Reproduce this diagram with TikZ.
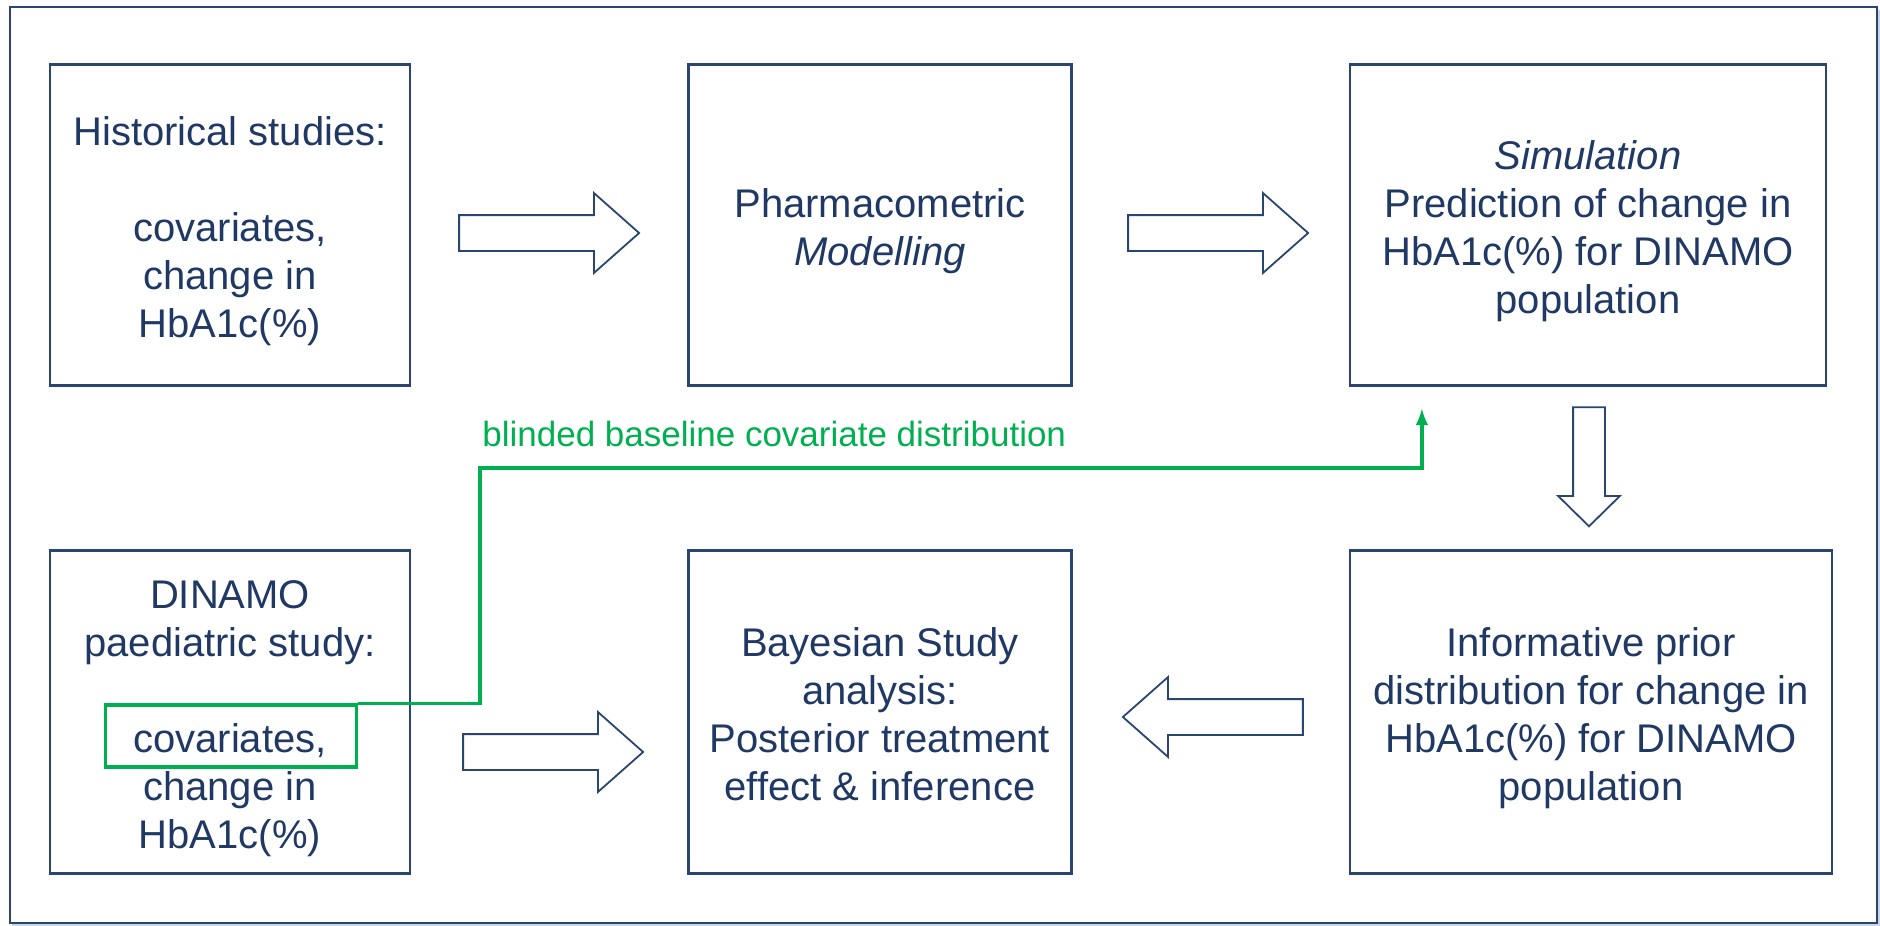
\documentclass[tikz,border=0pt]{standalone}
\usepackage{fontspec}
\setmainfont{Liberation Sans}
\usetikzlibrary{shapes.arrows}
\definecolor{navy}{HTML}{1F3864}
\definecolor{boxblue}{HTML}{2A4670}
\definecolor{grn}{HTML}{00B050}
\definecolor{halo}{HTML}{C9D6E8}
% struts so that every box text sits at the same height
\newcommand{\topstrut}{\rule{0pt}{21pt}}
\newcommand{\botstrut}{\rule[-5pt]{0pt}{5pt}}
\begin{document}
\begin{tikzpicture}[x=0.5pt,y=-0.5pt,
 box/.style={draw=boxblue,line width=1.1pt,text=navy,align=center,inner sep=0pt,font=\fontsize{20}{24}\selectfont},
 widearrow/.style={single arrow,draw=boxblue,line width=0.9pt,fill=white,inner sep=8.5pt,minimum width=39pt,minimum height=90pt,single arrow head extend=11pt,single arrow tip angle=83},
 narrowarrow/.style={single arrow,draw=boxblue,line width=0.9pt,fill=white,inner sep=7.5pt,minimum width=30pt,minimum height=59.5pt,single arrow head extend=7.5pt,single arrow tip angle=91},
 pick/.style={draw=grn,line width=1.6pt,minimum width=125.5pt,minimum height=31pt,inner sep=0pt}]

\useasboundingbox (0,0) rectangle (1880,926);

% outer frame
\draw [halo,line width=1.2pt] (1879,10) -- (1879,925) -- (12,925);
\draw [boxblue,line width=1pt] (10,7) rectangle (1877,923);

\node[box,minimum width=180pt,minimum height=160.5pt] at (230,225) (hist) {\topstrut Historical studies:\\[24pt]covariates,\\change in\\HbA1c(\%)\botstrut};
\node[box,minimum width=191.5pt,minimum height=160.5pt] at (880,225) (pharm) {\topstrut Pharmacometric\\\textit{Modelling}\botstrut};
\node[box,minimum width=238pt,minimum height=160.5pt] at (1588,225) (simul) {\topstrut\textit{Simulation}\\Prediction of change in\\HbA1c(\%) for DINAMO\\population\botstrut};

\node[box,minimum width=180pt,minimum height=161.5pt] at (230,712) (dinamo) {\topstrut DINAMO\\paediatric study:\\[24pt]covariates,\\change in\\HbA1c(\%)\botstrut};
\node[box,minimum width=191.5pt,minimum height=161.5pt] at (880,712) (bayes) {\topstrut Bayesian Study\\analysis:\\Posterior treatment\\effect \& inference\botstrut};
\node[box,minimum width=241pt,minimum height=161.5pt] at (1591,712) (prior) {\topstrut Informative prior\\distribution for change in\\HbA1c(\%) for DINAMO\\population\botstrut};

% hollow block arrows
\foreach \n/\x/\y/\r/\s in {ha/539/233/0/widearrow, hb/1208/233/0/widearrow, hc/1589/459/-90/narrowarrow, hd/1223/717/180/widearrow, he/543/752/0/widearrow}{
\node[\s,rotate=\r] (\n) at (\x,\y) {};
}

% blinded covariates
\node[pick] at (231,736) (cov) {};
\coordinate (turn) at (480,468);
\draw [grn,line width=1.8pt,-latex,shorten >=11pt] (cov.north east) -| (turn) -| ([xshift=36.5pt]simul.south west);
\node[anchor=west,text=grn,inner sep=0pt,font=\fontsize{17.5}{21}\selectfont] at (482,434) (blind) {blinded baseline covariate distribution};

\end{tikzpicture}
\end{document}
